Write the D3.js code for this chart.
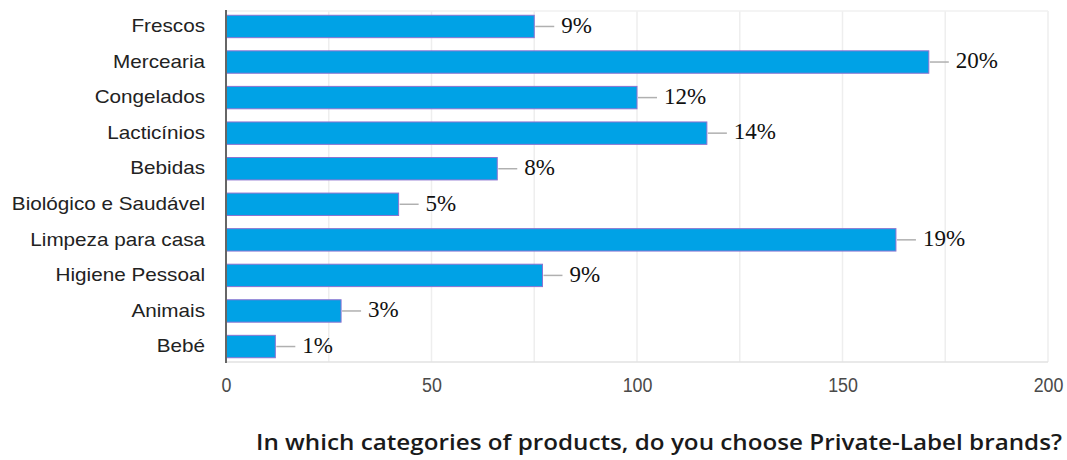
<!DOCTYPE html>
<html>
<head>
<meta charset="utf-8">
<script src="https://cdn.jsdelivr.net/npm/d3@7"></script>
<style>
  html, body { margin: 0; padding: 0; background: #fff; }
  svg { display: block; }
</style>
</head>
<body>
<svg id="chart" width="1067" height="460"></svg>
<script>
// Categories and response counts
const categories = ["Frescos", "Mercearia", "Congelados", "Lacticínios", "Bebidas",
  "Biológico e Saudável", "Limpeza para casa", "Higiene Pessoal", "Animais", "Bebé"];
const counts = [75, 171, 100, 117, 66, 42, 163, 77, 28, 12];
const shareLabels = ["9%", "20%", "12%", "14%", "8%", "5%", "19%", "9%", "3%", "1%"];
const xTicks = [0, 50, 100, 150, 200];
const gridTicks = [25, 50, 75, 100, 125, 150, 175, 200];
const title = "In which categories of products, do you choose Private-Label brands?";

const svg = d3.select("#chart");
const plotLeft = 226, plotRight = 1048, plotTop = 11, plotBottom = 362;

const x = d3.scaleLinear().domain([0, 200]).range([plotLeft, plotRight]);
const y = d3.scaleBand().domain(categories).range([plotTop, plotBottom]).paddingInner(0.37).paddingOuter(0.12);

// Light vertical grid
svg.append("g").selectAll("line").data(gridTicks).join("line")
  .attr("x1", d => x(d)).attr("x2", d => x(d))
  .attr("y1", plotTop).attr("y2", plotBottom)
  .attr("stroke", "#eeeeee").attr("stroke-width", 1.5);
svg.append("line").attr("x1", plotLeft).attr("x2", plotRight).attr("y1", plotTop).attr("y2", plotTop)
  .attr("stroke", "#f0f0f0").attr("stroke-width", 1.5);
svg.append("line").attr("x1", plotLeft).attr("x2", plotRight).attr("y1", plotBottom).attr("y2", plotBottom)
  .attr("stroke", "#e2e2e2").attr("stroke-width", 1.5);

const rows = categories.map((c, i) => ({ c, v: counts[i], p: shareLabels[i] }));

// Bars
svg.append("g").selectAll("rect").data(rows).join("rect")
  .attr("x", x(0))
  .attr("y", d => y(d.c))
  .attr("width", d => x(d.v) - x(0))
  .attr("height", y.bandwidth())
  .attr("fill", "#00a2e6")
  .attr("stroke", "#8c73d0")
  .attr("stroke-width", 1);

// Leader lines and share labels
svg.append("g").selectAll("line").data(rows).join("line")
  .attr("x1", d => x(d.v) + 1).attr("x2", d => x(d.v) + 20)
  .attr("y1", d => y(d.c) + y.bandwidth() / 2).attr("y2", d => y(d.c) + y.bandwidth() / 2)
  .attr("stroke", "#b0b0b0").attr("stroke-width", 1.5);
svg.append("g").selectAll("text").data(rows).join("text")
  .attr("x", d => x(d.v) + 27)
  .attr("y", d => y(d.c) + y.bandwidth() / 2 + 1)
  .attr("dominant-baseline", "middle")
  .attr("font-family", "'Liberation Serif', 'DejaVu Serif', serif")
  .attr("font-size", 23)
  .attr("fill", "#111")
  .text(d => d.p);

// Category axis (slightly widened lettering)
svg.append("g").attr("transform", "translate(205,0) scale(1.15,1)")
  .selectAll("text").data(categories).join("text")
  .attr("x", 0)
  .attr("y", d => y(d) + y.bandwidth() / 2 + 1)
  .attr("text-anchor", "end")
  .attr("dominant-baseline", "middle")
  .attr("font-family", "'Liberation Sans', Arial, sans-serif")
  .attr("font-size", 18)
  .attr("fill", "#222")
  .text(d => d);
svg.append("line").attr("x1", plotLeft).attr("x2", plotLeft).attr("y1", plotTop - 1).attr("y2", plotBottom + 1)
  .attr("stroke", "#666").attr("stroke-width", 2);

// Value axis (narrow, tall digits)
const xAxis = svg.append("g").attr("transform", `translate(0,${plotBottom})`)
  .call(d3.axisBottom(x).tickValues(xTicks).tickSize(0).tickPadding(15));
xAxis.select(".domain").remove();
xAxis.selectAll("text")
  .attr("font-family", "'Liberation Sans', Arial, sans-serif")
  .attr("font-size", 21)
  .attr("transform", "scale(0.85,1)")
  .attr("fill", "#4a4a4a");

// Title
svg.append("text")
  .attr("x", 256).attr("y", 450)
  .attr("font-family", "'Open Sans', sans-serif")
  .attr("font-weight", 600)
  .attr("font-size", 21)
  .attr("textLength", 806)
  .attr("lengthAdjust", "spacingAndGlyphs")
  .attr("fill", "#1a1a1a")
  .text(title);
</script>
</body>
</html>
